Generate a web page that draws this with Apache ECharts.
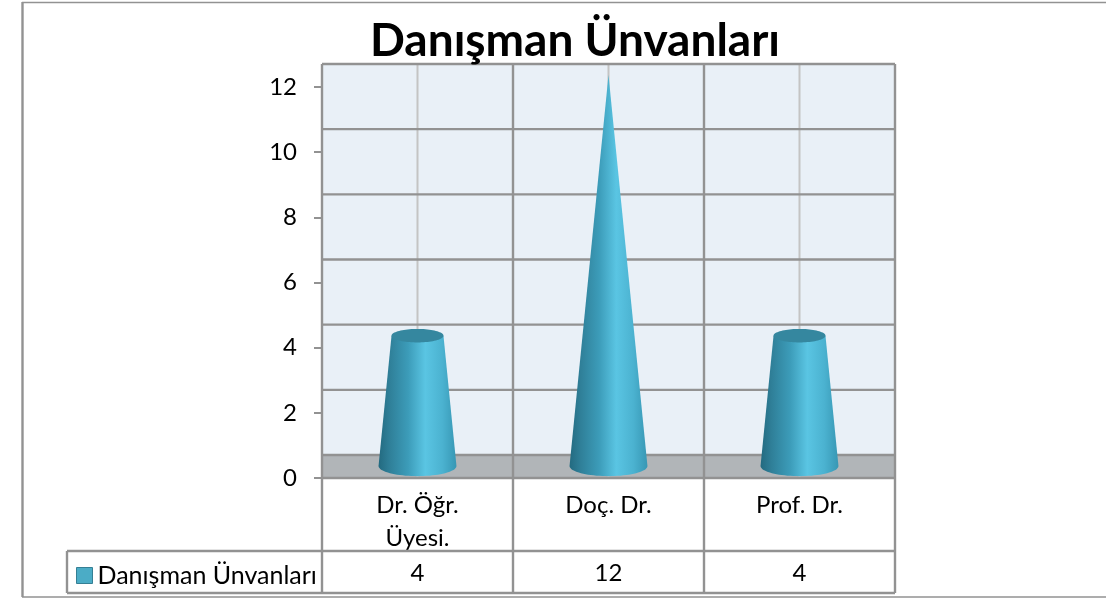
<!DOCTYPE html>
<html><head><meta charset="utf-8">
<style>html,body{margin:0;padding:0;background:#fff}#c{width:1106px;height:601px}</style>
<script src="https://cdn.jsdelivr.net/npm/echarts@6/dist/echarts.min.js"></script>
</head><body><div id="c"></div>
<script>
const titleText = 'Danışman Ünvanları';
const categories = ['Dr. Öğr.\nÜyesi.', 'Doç. Dr.', 'Prof. Dr.'];
const values = [4, 12, 4];
const yMax = 12;
const yInterval = 2;

const FONT = 'Lato, "Noto Sans", sans-serif';
const GRID = {left: 322, right: 211, top: 87, bottom: 123};
const LINE = '#929292', LIGHT = '#c4c4c4', WALL = '#e9f0f7', FLOOR = '#b1b5b8';
const DEPTH = 23, BASE_UP = 12, RATIO = 0.26;
const yTicks = [];
for (let v = 0; v <= yMax; v += yInterval) yTicks.push(v);

function wallItem(params, api) {
  if (params.dataIndex !== 0) return {type: 'group', children: []};
  const band = api.size([1, 0])[0];
  const y0 = api.coord([0, 0])[1];
  const yT = api.coord([0, yMax])[1];
  const L = api.coord([0, 0])[0] - band / 2;
  const R = L + band * categories.length;
  const st = {stroke: LINE, lineWidth: 2.4};
  const ch = [
    {type: 'rect', shape: {x: L, y: yT - DEPTH, width: R - L, height: y0 - yT}, style: {fill: WALL}},
    {type: 'rect', shape: {x: L, y: y0 - DEPTH, width: R - L, height: DEPTH}, style: {fill: FLOOR}}
  ];
  categories.forEach((c, i) => {
    const x = api.coord([i, 0])[0];
    ch.push({type: 'line', shape: {x1: x, y1: yT - DEPTH, x2: x, y2: y0}, style: {stroke: LIGHT, lineWidth: 2}});
  });
  yTicks.forEach(v => {
    const y = api.coord([0, v])[1] - DEPTH;
    ch.push({type: 'line', shape: {x1: L, y1: y, x2: R, y2: y}, style: st});
  });
  ch.push({type: 'line', shape: {x1: L, y1: y0, x2: R, y2: y0}, style: st});
  for (let i = 0; i <= categories.length; i++) {
    const x = L + band * i;
    ch.push({type: 'line', shape: {x1: x, y1: yT - DEPTH, x2: x, y2: y0}, style: st});
  }
  return {type: 'group', children: ch};
}

function coneItem(params, api) {
  const v = api.value(1);
  const cx = api.coord([api.value(0), 0])[0];
  const yb = api.coord([0, 0])[1] - BASE_UP;
  const yt = api.coord([0, v])[1] - BASE_UP;
  const rb = api.size([1, 0])[0] * 0.204;
  const rt = rb * (1 - v / yMax);
  const pts = [[cx - rt, yt], [cx + rt, yt]];
  const N = 40;
  for (let i = 0; i <= N; i++) {
    const a = Math.PI * i / N;
    pts.push([cx + rb * Math.cos(a), yb + rb * RATIO * Math.sin(a)]);
  }
  const grad = new echarts.graphic.LinearGradient(0, 0, 1, 0, [
    {offset: 0, color: '#236a80'}, {offset: 0.14, color: '#2f7f98'},
    {offset: 0.38, color: '#3c9cb9'}, {offset: 0.6, color: '#5ac5e3'},
    {offset: 0.82, color: '#4bb2d0'}, {offset: 1, color: '#3797b4'}
  ]);
  const ch = [{type: 'polygon', shape: {points: pts}, style: {fill: grad}}];
  if (rt > 0.5) {
    const top = [];
    for (let i = 0; i < N * 2; i++) {
      const a = Math.PI * i / N;
      top.push([cx + rt * Math.cos(a), yt + rt * RATIO * Math.sin(a)]);
    }
    ch.push({type: 'polygon', shape: {points: top}, style: {fill: '#35879f'}});
  }
  return {type: 'group', children: ch};
}

// Data-table frame around the axis
const T = {x0: 67, x1: 322, x2: 895, y0: 478, y1: 551, y2: 593};
const tableLines = [
  [T.x0, T.y1, T.x2, T.y1], [T.x0, T.y2, T.x2, T.y2], [T.x0, T.y1, T.x0, T.y2]
];
const band = (T.x2 - T.x1) / categories.length;
for (let i = 0; i <= categories.length; i++) {
  const x = T.x1 + band * i;
  tableLines.push([x, T.y0, x, T.y2]);
}
const frameLines = [[22, 2.5, 1106, 2.5], [22.5, 2, 22.5, 597], [22, 597, 1106, 597]];

const chart = echarts.init(document.getElementById('c'));
chart.setOption({
  animation: false,
  backgroundColor: '#fff',
  title: {text: titleText, left: 570, top: 13, textAlign: 'center',
    textStyle: {fontFamily: FONT, fontSize: 46, fontWeight: 'bold', color: '#000'}},
  legend: {left: 71, top: 558, itemWidth: 16, itemHeight: 16, itemGap: 0, selectedMode: false,
    data: [{name: titleText, icon: 'rect', itemStyle: {color: '#4bacc6', borderColor: '#357f94', borderWidth: 1}}],
    textStyle: {fontFamily: FONT, fontSize: 25, color: '#000', padding: [0, 0, 0, 0]}},
  grid: GRID,
  xAxis: [
    {type: 'category', data: categories, position: 'bottom',
      axisLine: {show: false}, axisTick: {show: false}, splitLine: {show: false},
      axisLabel: {fontFamily: FONT, fontSize: 24, color: '#000', lineHeight: 33, margin: 11, interval: 0, verticalAlign: 'top'}},
    {type: 'category', data: values.map(String), position: 'bottom', offset: 83,
      axisLine: {show: false}, axisTick: {show: false}, splitLine: {show: false},
      axisLabel: {fontFamily: FONT, fontSize: 24, color: '#000', interval: 0, margin: 0, verticalAlign: 'top'}}
  ],
  yAxis: {type: 'value', min: 0, max: yMax, interval: yInterval,
    axisLine: {show: false},
    axisTick: {show: true, length: 8, lineStyle: {color: LINE, width: 2}},
    splitLine: {show: false},
    axisLabel: {fontFamily: FONT, fontSize: 24, color: '#000', margin: 25}},
  series: [
    {type: 'custom', name: 'wall', silent: true, z: 1, clip: false, renderItem: wallItem, data: categories.map((c, i) => [i, 0]), encode: {x: 0, y: 1}},
    {type: 'custom', name: titleText, z: 3, clip: false, renderItem: coneItem, data: values.map((v, i) => [i, v]), encode: {x: 0, y: 1}}
  ],
  graphic: tableLines.concat(frameLines).map((l, i) => ({
    type: 'line', silent: true, z: i < tableLines.length ? 2 : 0,
    shape: {x1: l[0], y1: l[1], x2: l[2], y2: l[3]},
    style: {stroke: LINE, lineWidth: i < tableLines.length ? 2.4 : (l[0] === l[2] ? 2.4 : 1.6)}
  }))
});
</script></body></html>
